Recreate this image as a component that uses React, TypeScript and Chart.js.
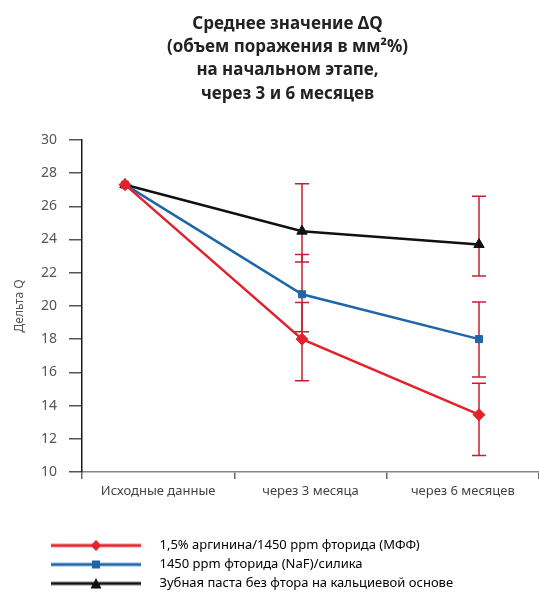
import { useEffect, useRef } from 'react';
import { Chart, registerables } from 'chart.js';

Chart.register(...registerables);

const TITLE_LINES = [
  'Среднее значение ΔQ',
  '(объем поражения в мм²%)',
  'на начальном этапе,',
  'через 3 и 6 месяцев',
];
const Y_TITLE = 'Дельта Q';
const CATEGORIES = ['Исходные данные', 'через 3 месяца', 'через 6 месяцев'];
const POINT_X = [0, 1, 2];
const Y_TICKS = [10, 12, 14, 16, 18, 20, 22, 24, 26, 28, 30];

const SERIES_NAMES = [
  '1,5% аргинина/1450 ppm фторида (МФФ)',
  '1450 ppm фторида (NaF)/силика',
  'Зубная паста без фтора на кальциевой основе',
];
const RED_VALUES = [27.3, 18.0, 13.45];
const BLUE_VALUES = [27.3, 20.7, 18.0];
const BLACK_VALUES = [27.3, 24.5, 23.7];

const RED_ERR_UP = [0, 2.2, 1.9];
const RED_ERR_DOWN = [0, 2.5, 2.45];
const BLUE_ERR_UP = [0, 2.4, 2.24];
const BLUE_ERR_DOWN = [0, 2.25, 2.28];
const BLACK_ERR_UP = [0, 2.85, 2.9];
const BLACK_ERR_DOWN = [0, 1.85, 1.9];

const FONT = '"Noto Sans", sans-serif';
const ERR_COLOR = '#c41f30';

const STYLES = [
  { color: '#e3222b', shape: 'rectRot', radius: 6 },
  { color: '#1f66a9', shape: 'rect', radius: 5 },
  { color: '#111111', shape: 'triangle', radius: 6 },
];

const VALUES = [RED_VALUES, BLUE_VALUES, BLACK_VALUES];
const ERR_UP = [RED_ERR_UP, BLUE_ERR_UP, BLACK_ERR_UP];
const ERR_DOWN = [RED_ERR_DOWN, BLUE_ERR_DOWN, BLACK_ERR_DOWN];

function makeLegendImage(color: string, shape: string): HTMLCanvasElement {
  const c = document.createElement('canvas');
  c.width = 90;
  c.height = 14;
  const g = c.getContext('2d')!;
  g.strokeStyle = color;
  g.fillStyle = color;
  g.lineWidth = 3;
  g.beginPath();
  g.moveTo(0, 7);
  g.lineTo(90, 7);
  g.stroke();
  g.beginPath();
  if (shape === 'rectRot') {
    g.moveTo(45, 1.5);
    g.lineTo(50.5, 7);
    g.lineTo(45, 12.5);
    g.lineTo(39.5, 7);
    g.closePath();
  } else if (shape === 'rect') {
    g.rect(41, 3, 8, 8);
  } else {
    g.moveTo(45, 1.5);
    g.lineTo(50.5, 12);
    g.lineTo(39.5, 12);
    g.closePath();
  }
  g.fill();
  return c;
}

const errorBarsPlugin = {
  id: 'errorBars',
  beforeDatasetsDraw(chart: any) {
    const { ctx } = chart;
    const xs = chart.scales.xd;
    const ys = chart.scales.y;
    ctx.save();
    ctx.strokeStyle = ERR_COLOR;
    ctx.lineWidth = 1.5;
    VALUES.forEach((vals, s) => {
      vals.forEach((v, i) => {
        const up = ERR_UP[s][i];
        const down = ERR_DOWN[s][i];
        if (!up && !down) return;
        const x = xs.getPixelForValue(POINT_X[i]);
        const yTop = ys.getPixelForValue(v + up);
        const yBot = ys.getPixelForValue(v - down);
        ctx.beginPath();
        ctx.moveTo(x, yTop);
        ctx.lineTo(x, yBot);
        ctx.moveTo(x - 7, yTop);
        ctx.lineTo(x + 7, yTop);
        ctx.moveTo(x - 7, yBot);
        ctx.lineTo(x + 7, yBot);
        ctx.stroke();
      });
    });
    ctx.restore();
  },
};

const shiftPlugin = {
  id: 'shiftBoxes',
  afterLayout(chart: any) {
    const t = chart.titleBlock;
    if (t) {
      t.left += 18;
      t.right += 18;
    }
    const l = chart.legend;
    if (l) {
      l.left += 33;
      l.right += 33;
      l.top += 8;
      l.bottom += 8;
    }
  },
};

export default function App() {
  const ref = useRef<HTMLCanvasElement | null>(null);

  useEffect(() => {
    document.body.style.margin = '0';
    const images = STYLES.map((s) => makeLegendImage(s.color, s.shape));
    const chart = new Chart(ref.current!, {
      type: 'line',
      data: {
        labels: CATEGORIES,
        datasets: SERIES_NAMES.map((name, s) => ({
          label: name,
          data: POINT_X.map((x, i) => ({ x, y: VALUES[s][i] })),
          xAxisID: 'xd',
          yAxisID: 'y',
          borderColor: STYLES[s].color,
          backgroundColor: STYLES[s].color,
          borderWidth: 2.5,
          pointStyle: STYLES[s].shape as any,
          pointRadius: STYLES[s].radius,
          pointBorderWidth: 1,
          pointBorderColor: STYLES[s].color,
          pointBackgroundColor: STYLES[s].color,
          tension: 0,
          fill: false,
        })),
      },
      options: {
        animation: false,
        responsive: true,
        maintainAspectRatio: false,
        layout: { padding: 0, autoPadding: false },
        plugins: {
          title: {
            display: true,
            text: TITLE_LINES,
            color: '#222',
            font: { family: FONT, size: 17, weight: 'bold', lineHeight: 1.38 },
            padding: { top: 12, bottom: 34 },
          },
          legend: {
            position: 'bottom',
            align: 'start',
            labels: {
              usePointStyle: true,
              pointStyleWidth: 114,
              padding: 6,
              color: '#333',
              font: { family: FONT, size: 13 },
              generateLabels: () =>
                SERIES_NAMES.map((name, s) => ({
                  text: name,
                  pointStyle: images[s] as any,
                  fillStyle: STYLES[s].color,
                  strokeStyle: STYLES[s].color,
                  lineWidth: 0,
                  hidden: false,
                  datasetIndex: s,
                })),
            },
          },
          tooltip: { enabled: false },
        },
        scales: {
          xd: {
            type: 'linear',
            display: false,
            min: -0.243,
            max: 2.339,
          },
          x: {
            type: 'category',
            offset: true,
            afterFit: (s: any) => {
              s.height = 53;
              s.paddingLeft = 0;
              s.paddingRight = 0;
            },
            border: { display: true, color: '#888', width: 1.5 },
            grid: { offset: true, drawOnChartArea: false, tickLength: 7, color: '#666', lineWidth: 1.5 },
            ticks: { padding: 4, color: '#444', font: { family: FONT, size: 13 } },
          },
          y: {
            min: 10,
            max: 30,
            afterBuildTicks: (s: any) => {
              s.ticks = Y_TICKS.map((v) => ({ value: v }));
            },
            afterFit: (s: any) => {
              s.width = 82;
            },
            border: { display: true, color: '#1a1a1a', width: 1.5 },
            grid: { drawOnChartArea: false, tickLength: 13, color: '#555', lineWidth: 1.5 },
            ticks: { padding: 12, color: '#555', font: { family: FONT, size: 14 } },
            title: {
              display: true,
              text: Y_TITLE,
              color: '#555',
              font: { family: FONT, size: 12 },
              padding: { top: 12, bottom: 0 },
            },
          },
        },
      },
      plugins: [errorBarsPlugin, shiftPlugin],
    });
    return () => chart.destroy();
  }, []);

  return (
    <div style={{ width: 539, height: 592, position: 'relative' }}>
      <canvas ref={ref} />
    </div>
  );
}
